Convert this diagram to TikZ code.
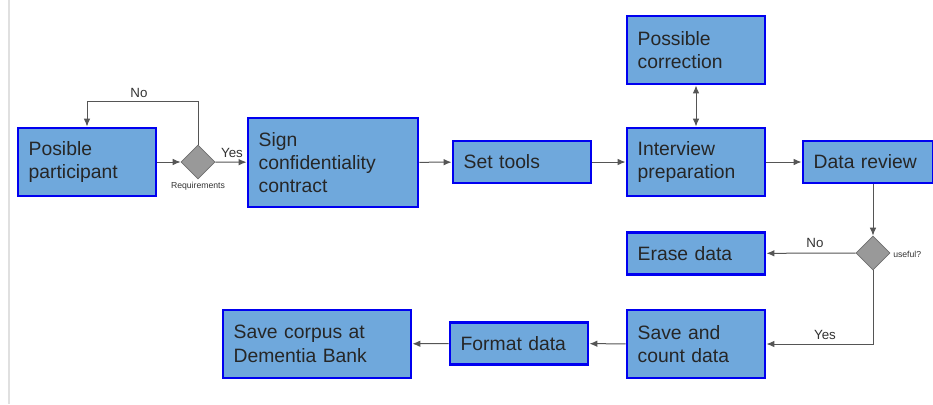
\documentclass[tikz,border=0pt]{standalone}
\usepackage{fontspec}
\setmainfont{Liberation Sans}
\usetikzlibrary{arrows.meta,shapes.geometric}

\definecolor{boxfill}{RGB}{111,168,220}
\definecolor{boxline}{RGB}{0,0,240}
\definecolor{decfill}{RGB}{153,153,153}
\definecolor{decline}{RGB}{110,110,110}
\definecolor{flowgray}{RGB}{85,85,85}

\tikzset{
  procbox/.style={draw=boxline, fill=boxfill, line width=2.2pt, inner xsep=8pt, inner ysep=0pt,
    align=left, font=\fontsize{14.5}{17.5}\selectfont, text=black!85},
  decision/.style={diamond, aspect=1, draw=decline, fill=decfill, line width=0.6pt,
    minimum width=25.5pt, minimum height=25.5pt, inner sep=0pt},
  flow/.style={draw=flowgray, line width=0.75pt, -{Latex[length=6pt,width=5pt]}},
  flowlabel/.style={font=\fontsize{10}{12}\selectfont, text=black!80, inner sep=0.75pt},
  smalllabel/.style={font=\fontsize{6.5}{8}\selectfont, text=black!80, inner sep=0.75pt}
}

\begin{document}
\begin{tikzpicture}[x=0.75pt,y=0.75pt,yscale=-1,xscale=1]
\useasboundingbox (0,0) rectangle (933,404);

%page edge
\draw [color=black!12, line width=1.2pt] (9,0) -- (9,404);

% Boxes
\node (part) [procbox, text width=87.5pt, minimum height=51pt] at (87,162) {Posible\\participant};
\node (sign) [procbox, text width=111.5pt, minimum height=66.75pt] at (333,162.5) {Sign\\confidentiality\\contract};
\node (tools) [procbox, text width=87.5pt, minimum height=31.5pt] at (522,162) {Set tools};
\node (interv) [procbox, text width=87.5pt, minimum height=51pt] at (696,162) {Interview\\preparation};
\node (correct) [procbox, text width=87.5pt, minimum height=51pt] at (696,50) {Possible\\correction};
\node (review) [procbox, text width=81.5pt, minimum height=31.5pt] at (868,162) {Data review};
\node (erase) [procbox, text width=87.5pt, minimum height=32pt] at (696,253.5) {Erase data};
\node (save) [procbox, text width=87.5pt, minimum height=51pt] at (696,344) {Save and\\count data};
\node (format) [procbox, text width=87.5pt, minimum height=32pt] at (519,343.5) {Format data};
\node (corpus) [procbox, text width=125pt, minimum height=51pt] at (317,344) {Save corpus at\\Dementia Bank};

% Decisions
\node (req) [decision] at (198,162) {};
\node (useful) [decision] at (873,253) {};
\node (reqlbl) [smalllabel] at (198,186) {Requirements};
\node (usefullbl) [smalllabel, anchor=west] at (892,254) {useful?};

% Connectors
\coordinate (loopc) at (87,101);
\draw [flow] (part) -- (req);
\draw [flow] (req.north) |- (loopc) -- (part.north);
\node (nolbl) [flowlabel] at (139,93) {No};
\draw [flow] (req) -- (sign);
\node (yeslbl) [flowlabel] at (232,153) {Yes};
\draw [flow] (sign) -- (tools);
\draw [flow] (tools) -- (interv);
\draw [flow] (interv) -- (review);
\draw [draw=flowgray, line width=0.75pt, {Latex[length=6pt,width=5pt]}-{Latex[length=6pt,width=5pt]}] (correct) -- (interv);
\draw [flow] (useful.north |- review.south) -- (useful.north);
\draw [flow] (useful) -- (erase);
\node (nolbl2) [flowlabel] at (815,243) {No};
\draw [flow] (useful.south) |- (save.east);
\node (yeslbl2) [flowlabel] at (825,335) {Yes};
\draw [flow] (save) -- (format);
\draw [flow] (format) -- (corpus);

\end{tikzpicture}
\end{document}
